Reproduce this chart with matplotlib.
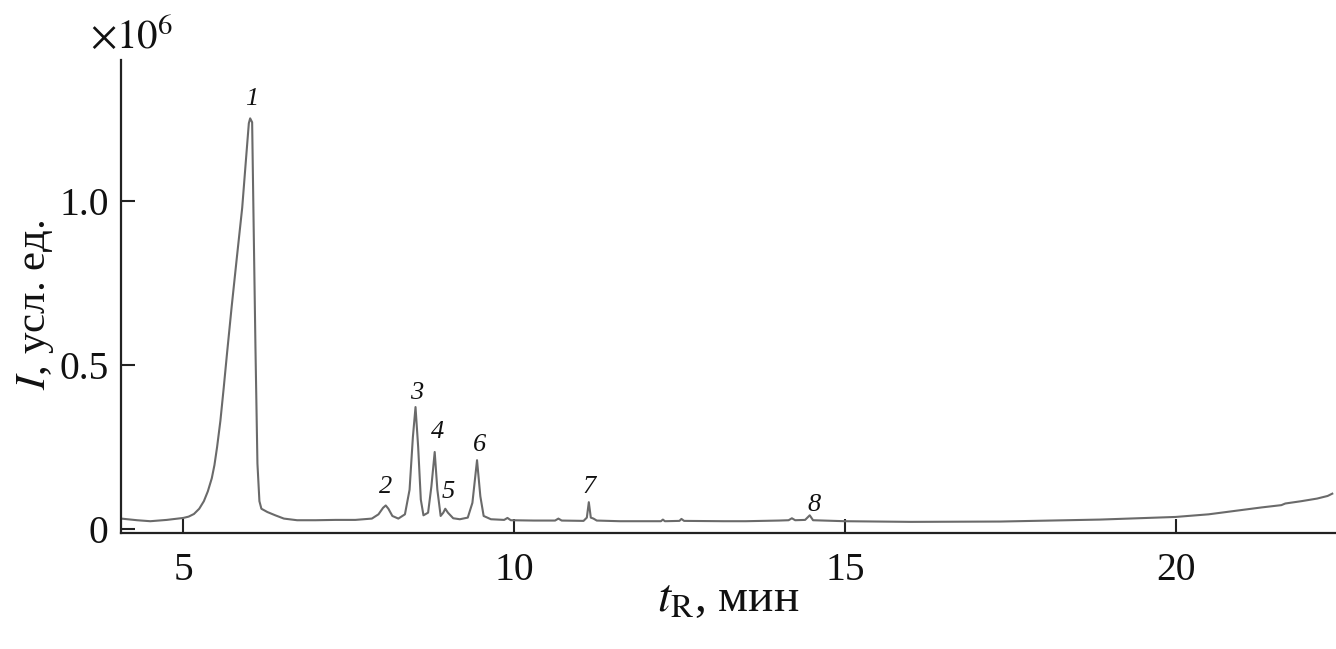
import matplotlib
matplotlib.use("Agg")
import matplotlib.pyplot as plt

plt.rcParams['font.family'] = ['Liberation Serif', 'DejaVu Serif']
plt.rcParams['mathtext.fontset'] = 'stix'

# retention time (min) and intensity (x10^6 a.u.)
t_min = [4.06, 4.3, 4.5, 4.75, 5.0, 5.08, 5.16, 5.24, 5.31, 5.37, 5.43, 5.47, 5.51, 5.56,
         5.61, 5.66, 5.73, 5.81, 5.89, 5.95, 5.99, 6.01, 6.04, 6.06, 6.09, 6.12, 6.15, 6.18,
         6.27, 6.39, 6.52, 6.72, 7.0, 7.3,
         7.6, 7.85, 7.95, 8.02, 8.06, 8.10, 8.16, 8.25, 8.35, 8.42, 8.47, 8.51, 8.55, 8.59,
         8.63, 8.70, 8.75, 8.80, 8.84, 8.89, 8.93, 8.96, 9.00, 9.08, 9.18, 9.30, 9.37, 9.44,
         9.49, 9.54, 9.65, 9.85, 9.90, 9.95, 10.3, 10.62, 10.67, 10.72, 11.05, 11.10, 11.13,
         11.16, 11.2, 11.25, 11.6, 12.0, 12.22, 12.25, 12.28, 12.5, 12.53, 12.57, 13.17,
         13.5, 14.0, 14.15, 14.2, 14.25, 14.4, 14.47, 14.52, 15.0, 16.0, 17.35, 18.86,
         20.0, 20.5, 20.88, 21.3, 21.6, 21.66, 21.9, 22.14, 22.3, 22.37]
intensity = [0.032, 0.027, 0.024, 0.028, 0.034, 0.038, 0.046, 0.062, 0.085, 0.115, 0.155,
             0.195, 0.25, 0.33, 0.43, 0.535, 0.677, 0.83, 0.98, 1.135, 1.237, 1.252, 1.24,
             0.963, 0.555, 0.20, 0.085, 0.062, 0.052,
             0.042, 0.032, 0.027, 0.027, 0.028, 0.028, 0.032, 0.045, 0.065, 0.072, 0.062,
             0.040, 0.032, 0.045, 0.12, 0.28, 0.372, 0.25, 0.09, 0.042, 0.05, 0.13, 0.235,
             0.12, 0.04, 0.05, 0.062, 0.05, 0.033, 0.03, 0.035, 0.08, 0.21, 0.10, 0.04, 0.03,
             0.028, 0.034, 0.027, 0.026, 0.026, 0.032, 0.026, 0.025, 0.035, 0.082, 0.035,
             0.032, 0.026, 0.024, 0.024, 0.024, 0.029, 0.024, 0.025, 0.031, 0.025, 0.024,
             0.024, 0.026, 0.027, 0.033, 0.027, 0.028, 0.042, 0.027, 0.024, 0.022, 0.023,
             0.029, 0.037, 0.045, 0.055, 0.066, 0.073, 0.078, 0.085, 0.093, 0.101, 0.108]

peak_labels = ['1', '2', '3', '4', '5', '6', '7', '8']
peak_label_t = [6.04, 8.06, 8.52, 8.84, 9.01, 9.48, 11.14, 14.54]
peak_label_y = [1.31, 0.127, 0.414, 0.295, 0.112, 0.256, 0.127, 0.072]

x_ticks = [5, 10, 15, 20]
y_ticks = [0, 0.5, 1.0]
y_tick_labels = ['0', '0.5', '1.0']

fig = plt.figure(figsize=(13.36, 6.49), dpi=100)
ax = fig.add_axes([0.0906, 0.1787, 0.9086, 0.7289])

ax.plot(t_min, intensity, color='#6a6a6a', lw=1.5)

ax.set_xlim(4.058, 22.41)
ax.set_ylim(-0.012, 1.43)

for s in ['top', 'right']:
    ax.spines[s].set_visible(False)
for s in ['left', 'bottom']:
    ax.spines[s].set_linewidth(1.6)
    ax.spines[s].set_color('#222222')

ax.set_xticks(x_ticks)
ax.set_xticklabels([str(v) for v in x_ticks])
ax.set_yticks(y_ticks)
ax.set_yticklabels(y_tick_labels)
ax.tick_params(axis='both', direction='in', length=10, width=1.5, color='#222222',
               labelsize=28.5, labelcolor='#111111')
ax.tick_params(axis='x', pad=14)
ax.tick_params(axis='y', pad=9)

for lab, tx, ty in zip(peak_labels, peak_label_t, peak_label_y):
    ax.text(tx, ty, lab, fontsize=19, fontstyle='italic', ha='center', va='center',
            color='#111111')

fig.text(90 / 1336, 1 - 48 / 649, r'$\times 10^{6}$', fontsize=29.5, ha='left',
         va='baseline', color='#111111')
fig.text(36 / 1336, 1 - 305 / 649, r'$I$, усл. ед.', fontsize=31, rotation=90,
         ha='center', va='center', color='#111111')
fig.text(728 / 1336, 1 - 600 / 649, r'$t_{\mathrm{R}}$, мин', fontsize=34,
         ha='center', va='center', color='#111111')

fig.savefig('out.png', dpi=100)
